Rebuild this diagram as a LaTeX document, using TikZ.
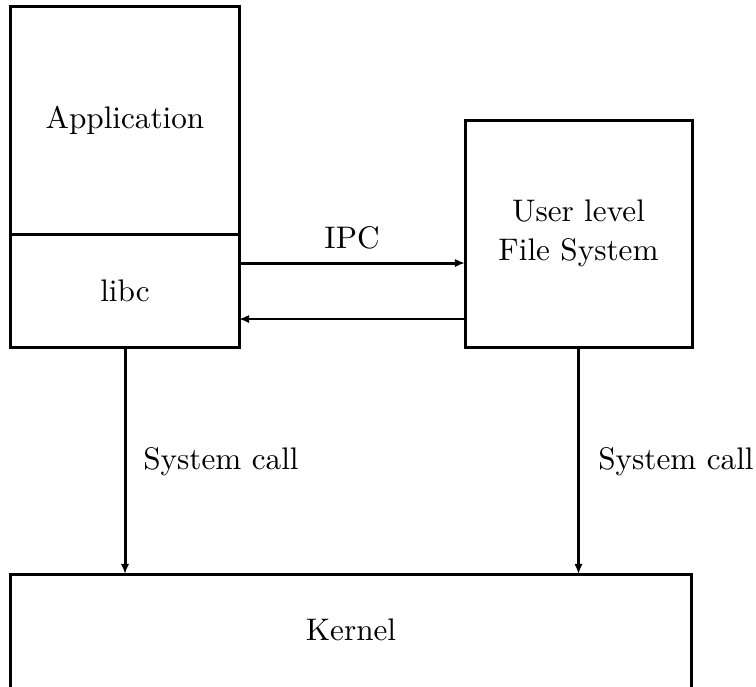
\documentclass[tikz,border=0pt]{standalone}
\usetikzlibrary{arrows.meta}
\begin{document}
\begin{tikzpicture}[x=0.33333pt,y=-0.33333pt,
  font=\fontsize{10.4}{12.5}\selectfont,
  box/.style={draw,line width=1pt,inner sep=0pt,outer sep=0pt},
  thickarrow/.style={line width=1pt,-{Latex[length=3.4pt,width=2.8pt]}},
  thinarrow/.style={line width=0.7pt,-{Latex[length=3.4pt,width=2.8pt]}},
  lbl/.style={inner sep=0pt}]
\useasboundingbox (0,0) rectangle (756,686);
\node[box,minimum width=76pt,minimum height=75.67pt] (app) at (125,120.5) {Application};
\node[box,minimum width=76pt,minimum height=37.67pt] (libc) at (125,290.5) {libc};
\node[box,minimum width=75.67pt,minimum height=75.67pt,align=center] (ufs) at (578.5,233.5) {User level\\[0.3pt]File System};
\node[box,minimum width=226.67pt,minimum height=40pt] (kernel) at (351,634) {};
\node[lbl] (ktext) at (351,630) {Kernel};
\coordinate (ipcy) at (0,263);
\coordinate (rety) at (0,319);
\draw[thickarrow] (libc.east |- ipcy) -- (ufs.west |- ipcy);
\draw[thinarrow] (ufs.west |- rety) -- (libc.east |- rety);
\node[lbl] (ipc) at (352,238) {IPC};
\draw[thickarrow] (libc.south) -- (libc.south |- kernel.north);
\draw[thinarrow] (ufs.south) -- (ufs.south |- kernel.north);
\node[lbl] (sc1) at (221,462) {System call};
\node[lbl] (sc2) at (676,462) {System call};
\end{tikzpicture}
\end{document}
